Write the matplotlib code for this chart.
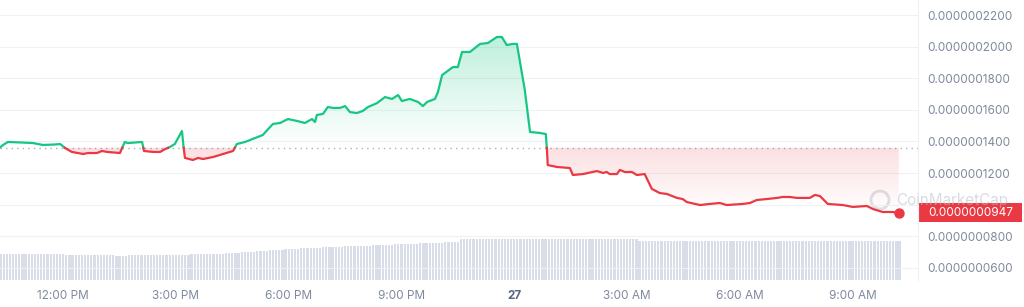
import numpy as np
import matplotlib
matplotlib.use("Agg")
import matplotlib.pyplot as plt
from matplotlib.path import Path
from matplotlib.patches import PathPatch, Circle, Rectangle

plt.rcParams["font.family"] = ["Inter", "DejaVu Sans"]

# prix en unités de 1e-10 ; temps en heures depuis minuit du 26
hours = [10.32, 10.40, 10.53, 10.85, 11.20, 11.46, 11.78, 11.92, 12.05, 12.23,
         12.53, 12.66, 12.90, 13.03, 13.17, 13.51, 13.64, 13.72, 14.10, 14.15,
         14.39, 14.58, 14.71, 14.84, 14.97, 15.16, 15.21, 15.24, 15.45, 15.59,
         15.72, 15.99, 16.25, 16.52, 16.62, 16.84, 16.97, 17.31, 17.58, 17.77,
         17.98, 18.22, 18.43, 18.62, 18.70, 18.75, 18.91, 19.04, 19.18, 19.36,
         19.50, 19.63, 19.81, 19.97, 20.11, 20.35, 20.56, 20.75, 20.91, 21.01,
         21.22, 21.44, 21.57, 21.68, 21.89, 21.97, 22.08, 22.37, 22.50, 22.61,
         22.82, 23.09, 23.30, 23.54, 23.67, 23.80, 23.96, 24.07, 24.28, 24.42,
         24.68, 24.84, 24.87, 24.89, 25.13, 25.48, 25.56, 25.83, 26.20, 26.36,
         26.46, 26.54, 26.73, 26.81, 26.94, 27.13, 27.26, 27.47, 27.66, 27.87,
         28.06, 28.33, 28.48, 28.59, 28.94, 29.20, 29.47, 29.65, 30.08, 30.27,
         30.45, 30.72, 30.99, 31.14, 31.33, 31.52, 31.86, 32.00, 32.13, 32.34,
         32.74, 33.01, 33.38, 33.54, 33.80, 34.07, 34.23]
price = [1362, 1378, 1397, 1394, 1390, 1378, 1381, 1384, 1359, 1334,
         1321, 1327, 1327, 1340, 1334, 1327, 1397, 1390, 1397, 1340,
         1334, 1334, 1352, 1365, 1384, 1466, 1352, 1296, 1283, 1296,
         1289, 1302, 1321, 1340, 1384, 1397, 1409, 1441, 1511, 1517,
         1542, 1530, 1517, 1542, 1523, 1568, 1574, 1618, 1612, 1612,
         1624, 1586, 1580, 1593, 1618, 1643, 1681, 1669, 1694, 1656,
         1669, 1650, 1624, 1650, 1669, 1713, 1820, 1871, 1871, 1966,
         1966, 2017, 2023, 2061, 2061, 2010, 2017, 2017, 1726, 1460,
         1454, 1447, 1346, 1251, 1239, 1232, 1188, 1194, 1213, 1201,
         1207, 1194, 1194, 1220, 1207, 1207, 1188, 1194, 1100, 1074,
         1068, 1043, 1036, 1017, 998, 1005, 1011, 998, 1005, 1011,
         1030, 1036, 1043, 1049, 1049, 1043, 1043, 1062, 1055, 1005,
         998, 986, 992, 973, 954, 954, 947]
base_price = 1360

# volume toutes les 5 min à partir de 10:20 (unités arbitraires)
volume = [
    26, 26, 26, 26, 26, 26, 26, 26, 26, 26, 26, 26,
    26, 26, 26, 26, 26, 26, 26, 26, 26, 25, 25, 25,
    25, 25, 25, 25, 25, 25, 25, 25, 25, 25, 25, 25,
    25, 24.5, 24.5, 24.5, 24.5, 25, 25, 25, 25, 25, 25, 25,
    25, 25, 25, 25, 25, 25.5, 25.5, 25.5, 25.5, 25.5, 25.5, 25.5,
    25.5, 26, 26, 26, 26, 26, 26, 26, 26.5, 26.5, 26.5, 26.5,
    27, 27, 27, 27.5, 27.5, 28, 28, 28, 28.5, 28.5, 29, 29,
    29.5, 29.5, 30, 30, 30, 30.5, 30.5, 31, 31, 31, 31.5, 31.5,
    32, 32, 32, 32, 32.5, 32.5, 32.5, 33, 33, 33, 33, 33,
    33.5, 33.5, 34, 34, 34, 34, 34, 34, 34.5, 34.5, 34.5, 35,
    35, 35, 35, 35.5, 35.5, 35.5, 36, 36, 36, 36, 36, 36.5,
    36.5, 36.5, 37, 37, 37, 37, 37, 37.5, 37.5, 37.5, 38, 38,
    38, 38, 38, 41, 41, 41, 41, 41, 41, 41, 41, 41,
    41, 41, 41, 41, 41, 41, 41, 41, 41, 41, 41, 41,
    41, 41, 41, 41, 41, 41, 41, 41, 41, 41, 41, 41,
    41, 41, 41, 41, 41, 41, 41, 41, 41, 41, 41, 41,
    41, 41, 41, 41, 41, 41, 41, 41, 41, 41, 41, 41,
    39.5, 39.5, 39.5, 39.5, 39.5, 39.5, 39.5, 39.5, 39.5, 39.5, 39.5, 39.5,
    39.5, 39.5, 39.5, 39.5, 39.5, 39.5, 39.5, 39.5, 39.5, 39.5, 39.5, 39.5,
    39.5, 39.5, 39.5, 39.5, 39.5, 39.5, 39.5, 39.5, 39.5, 39.5, 39.5, 39.5,
    39.5, 39.5, 39.5, 39.5, 39.5, 39.5, 39.5, 39.5, 39.5, 39.5, 39.5, 39.5,
    39.5, 39.5, 39.5, 39.5, 39.5, 39.5, 39.5, 39.5, 39.5, 39.5, 39.5, 39.5,
    39.5, 39.5, 39.5, 39.5, 39.5, 39.5, 39.5, 39.5, 39.5, 39.5, 39.5, 39.5,
    39.5, 39.5, 39.5, 39.5, 39.5, 39.5, 39.5, 39.5, 39.5, 39.5, 39.5, 39.5,
]
volume_start = 10 + 20 / 60
volume_step = 5 / 60

y_ticks = [600, 800, 1000, 1200, 1400, 1600, 1800, 2000, 2200]
x_ticks = [12, 15, 18, 21, 24, 27, 30, 33]
x_labels = ["12:00 PM", "3:00 PM", "6:00 PM", "9:00 PM", "27",
            "3:00 AM", "6:00 AM", "9:00 AM"]

GREEN = "#16c784"
RED = "#ea3943"
GREY = "#808a9d"

t = np.array(hours)
p = np.array(price, dtype=float)

# points de croisement avec la ligne de référence
tt, pp = [t[0]], [p[0]]
for i in range(1, len(t)):
    a, b = p[i - 1] - base_price, p[i] - base_price
    if a * b < 0:
        f = a / (a - b)
        tt.append(t[i - 1] + f * (t[i] - t[i - 1]))
        pp.append(base_price)
    tt.append(t[i])
    pp.append(p[i])
tt, pp = np.array(tt), np.array(pp)

fig = plt.figure(figsize=(10.24, 3.07), dpi=100)
W, H = 1024, 307
ax = fig.add_axes([0, 27 / H, 918 / W, 280 / H])
axv = fig.add_axes([0, 27 / H, 918 / W, 50 / H], sharex=ax)
axv.set_zorder(0)
ax.set_zorder(1)
ax.patch.set_alpha(0)

xlim = (10.32, 34.74)
ax.set_xlim(*xlim)
ax.set_ylim(523.9, 2294.9)

# volume
vt = volume_start + np.arange(len(volume)) * volume_step
axv.bar(vt, volume, width=volume_step * 0.7, color="#d8dde8", linewidth=0)
axv.set_ylim(0, 50)
axv.axis("off")

# grille
for v in y_ticks:
    ax.axhline(v, color="#eff2f5", linewidth=0.8, zorder=0)
ax.axhline(base_price, color="#a6b0c3", linestyle=(0, (1, 3)), linewidth=1, zorder=1)

# remplissages en dégradé
def gradient_fill(where, color, y0, y1, a0, a1):
    poly = ax.fill_between(tt, pp, base_price, where=where, interpolate=True,
                           facecolor="none", edgecolor="none")
    path = Path.make_compound_path(*poly.get_paths())
    patch = PathPatch(path, transform=ax.transData, facecolor="none", edgecolor="none")
    ax.add_patch(patch)
    rgb = matplotlib.colors.to_rgb(color)
    n = 256
    img = np.zeros((n, 1, 4))
    img[:, 0, :3] = rgb
    img[:, 0, 3] = np.linspace(a0, a1, n)
    im = ax.imshow(img, extent=[xlim[0], xlim[1], y0, y1], origin="lower",
                   aspect="auto", zorder=1, interpolation="bilinear")
    im.set_clip_path(patch)

gradient_fill(pp >= base_price, GREEN, base_price, 2080, 0.0, 0.28)
gradient_fill(pp <= base_price, RED, 940, base_price, 0.0, 0.16)
ax.set_xlim(*xlim)
ax.set_ylim(523.9, 2294.9)

green = np.where(pp >= base_price, pp, np.nan)
red = np.where(pp <= base_price, pp, np.nan)
ax.plot(tt, green, color=GREEN, linewidth=1.6, zorder=3, solid_joinstyle="round")
ax.plot(tt, red, color=RED, linewidth=1.6, zorder=3, solid_joinstyle="round")
ax.plot(t[-1], p[-1], "o", color=RED, markersize=6.5, zorder=4)

# axes
for s in ["top", "left", "bottom"]:
    ax.spines[s].set_visible(False)
ax.spines["right"].set_color("#eff2f5")
ax.yaxis.tick_right()
ax.set_yticks(y_ticks)
ax.set_yticklabels([f"{v * 1e-10:.10f}" if v != 1000 else "" for v in y_ticks])
ax.tick_params(axis="y", length=0, pad=7, labelsize=8.5, labelcolor=GREY)
ax.set_xticks(x_ticks)
ax.set_xticklabels(x_labels)
ax.tick_params(axis="x", length=0, pad=7, labelsize=8.5, labelcolor=GREY)
for lab in ax.get_xticklabels():
    if lab.get_text() == "27":
        lab.set_fontweight("bold")
        lab.set_color("#58667e")

# étiquette du dernier prix
fig.add_artist(Rectangle((918 / W, (H - 222) / H), 104 / W, 19 / H,
                         transform=fig.transFigure, facecolor=RED, edgecolor="none"))
fig.text(928 / W, (H - 212.5) / H, f"{p[-1] * 1e-10:.10f}", color="white",
         fontsize=8.5, va="center", ha="left")

# filigrane
fig.add_artist(Circle((8.80, (H - 200) / 100), 0.09, transform=fig.dpi_scale_trans,
                      facecolor="white", edgecolor="#c3c8d2", linewidth=2, alpha=0.55))
fig.text(896 / W, (H - 200) / H, "CoinMarketCap", color="#b9bfca", alpha=0.55,
         fontsize=11, va="center", ha="left")

fig.savefig("out.png", dpi=100)
